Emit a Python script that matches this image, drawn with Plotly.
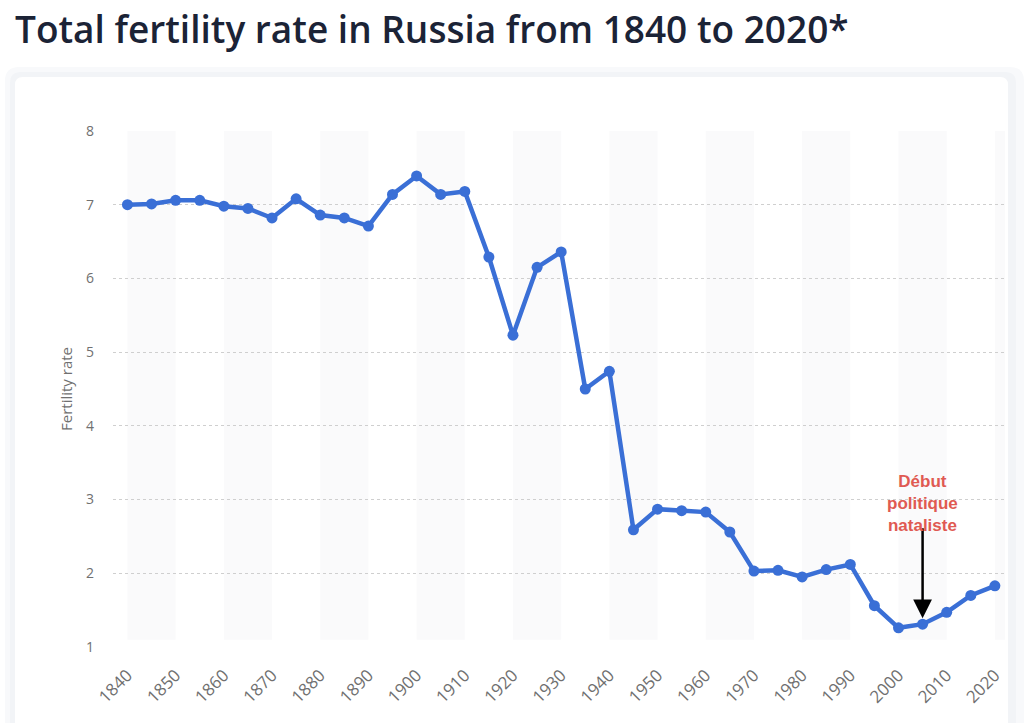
import plotly.graph_objects as go

years = list(range(1840, 2021, 5))
fertility = [7.00, 7.01, 7.06, 7.06, 6.98, 6.95, 6.82, 7.08, 6.86, 6.82,
             6.71, 7.14, 7.39, 7.14, 7.18, 6.29, 5.23, 6.15, 6.36, 4.50,
             4.74, 2.59, 2.87, 2.85, 2.83, 2.56, 2.03, 2.04, 1.95, 2.05,
             2.12, 1.56, 1.26, 1.31, 1.47, 1.70, 1.83]
tick_years = list(range(1840, 2021, 10))
y_ticks = [1, 2, 3, 4, 5, 6, 7, 8]
band_starts = list(range(1840, 2021, 20))

title_text = "Total fertility rate in Russia from 1840 to 2020*"
y_title = "Fertility rate"
note_text = "Début<br>politique<br>nataliste"
note_year = 2005

W, H = 1024, 723
ML, MR, MT, MB = 113, 19, 131, 76
PW, PH = W - ML - MR, H - MT - MB
X_RANGE = [1837, 2022.1]


def px_x(p):
    return (p - ML) / PW


def px_y(p):
    return (H - MB - p) / PH


def rounded(x0, y0, x1, y1, r):
    pts = [
        f"M {px_x(x0 + r)},{px_y(y0)}",
        f"L {px_x(x1 - r)},{px_y(y0)}",
        f"Q {px_x(x1)},{px_y(y0)} {px_x(x1)},{px_y(y0 + r)}",
        f"L {px_x(x1)},{px_y(y1 - r)}",
        f"Q {px_x(x1)},{px_y(y1)} {px_x(x1 - r)},{px_y(y1)}",
        f"L {px_x(x0 + r)},{px_y(y1)}",
        f"Q {px_x(x0)},{px_y(y1)} {px_x(x0)},{px_y(y1 - r)}",
        f"L {px_x(x0)},{px_y(y0 + r)}",
        f"Q {px_x(x0)},{px_y(y0)} {px_x(x0 + r)},{px_y(y0)}",
        "Z",
    ]
    return " ".join(pts)


fig = go.Figure()

fig.add_trace(go.Scatter(
    x=years, y=fertility, mode="lines+markers",
    line=dict(color="#3a6fd6", width=4.5),
    marker=dict(color="#3a6fd6", size=11),
    hoverinfo="x+y", showlegend=False,
))

shapes = []
shapes.append(dict(type="path", xref="paper", yref="paper",
                   path=rounded(5, 67, 1024, 760, 14),
                   fillcolor="#f8f9fb", line=dict(width=0), layer="below"))
shapes.append(dict(type="path", xref="paper", yref="paper",
                   path=rounded(10, 72, 1016, 760, 11),
                   fillcolor="#f2f4f7", line=dict(width=0), layer="below"))
shapes.append(dict(type="path", xref="paper", yref="paper",
                   path=rounded(15, 77, 1008, 760, 8),
                   fillcolor="#ffffff", line=dict(width=0), layer="below"))

for s in band_starts:
    shapes.append(dict(type="rect", xref="x", yref="paper",
                       x0=s, x1=min(s + 10, X_RANGE[1]), y0=0.014, y1=1,
                       fillcolor="#fafafb", line=dict(width=0), layer="below"))

fig.update_layout(shapes=shapes)

idx = years.index(note_year)
fig.add_annotation(
    x=note_year, y=fertility[idx], xref="x", yref="y",
    ax=note_year, ay=2.63, axref="x", ayref="y",
    text="", showarrow=True, arrowhead=2, arrowsize=1.5, arrowwidth=2.5,
    arrowcolor="#000000", standoff=6,
)
fig.add_annotation(
    x=note_year, y=2.94, xref="x", yref="y",
    text=note_text, showarrow=False,
    font=dict(family="Liberation Sans, Arial, sans-serif", size=17,
              color="#e05a52", weight="bold"),
    align="center", xanchor="center", yanchor="middle",
)

fig.update_layout(
    width=W, height=H,
    margin=dict(l=ML, r=MR, t=MT, b=MB, pad=0),
    paper_bgcolor="#ffffff", plot_bgcolor="rgba(0,0,0,0)",
    title=dict(text=title_text, xref="container", yref="container",
               x=15 / W, xanchor="left", y=1 - 30 / H, yanchor="middle",
               font=dict(family="Open Sans, sans-serif", size=37,
                         color="#1b2336", weight=600)),
    font=dict(family="Open Sans, sans-serif", color="#666666"),
    xaxis=dict(range=X_RANGE, tickvals=tick_years, tickangle=-45,
               showgrid=False, zeroline=False, showline=False,
               tickfont=dict(size=17, color="#707070"),
               ticks="", ticklabelstandoff=14, fixedrange=True),
    yaxis=dict(range=[1, 8], tickvals=y_ticks, showgrid=True,
               gridcolor="#cfcfcf", griddash="dot", gridwidth=1,
               zeroline=False, showline=False,
               tickfont=dict(size=14, color="#707070"),
               ticks="", ticklabelstandoff=18,
               title=dict(text=y_title, font=dict(size=15, color="#707070"),
                          standoff=9),
               fixedrange=True),
)

fig.write_html("out.html",
               config={"displayModeBar": False},
               post_script="document.body.style.margin='0';"
                           "document.body.style.overflow='hidden';")
